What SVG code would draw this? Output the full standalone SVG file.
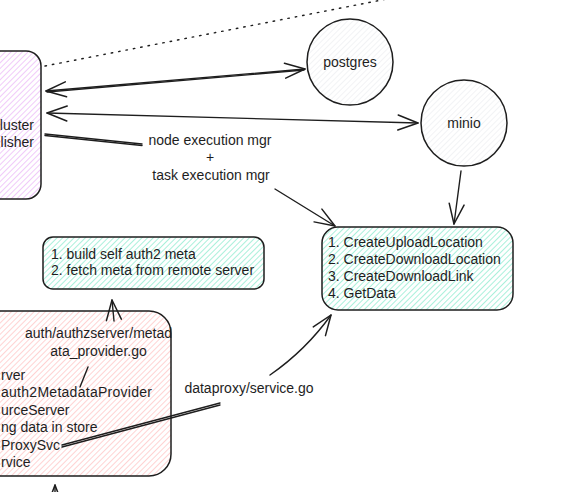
<svg xmlns="http://www.w3.org/2000/svg" width="578" height="492" viewBox="0 0 578 492">
<style>
  .t{font-family:"Liberation Sans",Arial,sans-serif;font-size:14px;fill:#1e1e1e}
  .box{stroke:#1e1e1e;stroke-width:1.5}
  .ln{fill:none;stroke:#1e1e1e;stroke-width:1.4;stroke-linecap:round;stroke-linejoin:round}
  .arr{marker-end:url(#ah)}
  .dbl{marker-start:url(#ah);marker-end:url(#ah)}
</style>
<defs>
  <pattern id="hPurple" width="4" height="4" patternUnits="userSpaceOnUse" patternTransform="rotate(45)">
    <rect width="4" height="4" fill="#fff"/><line x1="0" y1="0" x2="0" y2="4" stroke="#e9aef6" stroke-width="1.3"/>
  </pattern>
  <pattern id="hTeal" width="4" height="4" patternUnits="userSpaceOnUse" patternTransform="rotate(45)">
    <rect width="4" height="4" fill="#fff"/><line x1="0" y1="0" x2="0" y2="4" stroke="#7ce8c8" stroke-width="1.3"/>
  </pattern>
  <pattern id="hPink" width="4" height="4" patternUnits="userSpaceOnUse" patternTransform="rotate(45)">
    <rect width="4" height="4" fill="#fff"/><line x1="0" y1="0" x2="0" y2="4" stroke="#ffb5b5" stroke-width="1.2"/>
  </pattern>
  <pattern id="hGray" width="4" height="4" patternUnits="userSpaceOnUse" patternTransform="rotate(45)">
    <rect width="4" height="4" fill="#fff"/><line x1="0" y1="0" x2="0" y2="4" stroke="#e6e8eb" stroke-width="1"/>
  </pattern>
  <marker id="ah" viewBox="0 0 22 17" refX="21" refY="8.5" markerWidth="22" markerHeight="17" markerUnits="userSpaceOnUse" orient="auto-start-reverse">
    <path d="M1,1 L21,8.5 L1,16" fill="none" stroke="#1e1e1e" stroke-width="1.5" stroke-linecap="round" stroke-linejoin="round"/>
  </marker>
</defs>

<g id="n-cluster">
  <rect class="box" x="-30" y="51" width="71" height="148" rx="15" fill="url(#hPurple)"/>
  <text class="t" x="34" y="130" text-anchor="end">luster</text>
  <text class="t" x="34" y="147" text-anchor="end">lisher</text>
</g>

<g id="n-postgres">
  <circle class="box" cx="350" cy="62" r="43" fill="url(#hGray)"/>
  <text class="t" x="350" y="67" text-anchor="middle">postgres</text>
</g>

<g id="n-minio">
  <circle class="box" cx="464" cy="123" r="43" fill="url(#hGray)"/>
  <text class="t" x="464" y="128" text-anchor="middle">minio</text>
</g>

<g id="n-dataproxy-api">
  <rect class="box" x="322" y="227" width="191" height="83" rx="16" fill="url(#hTeal)"/>
  <text class="t" x="328" y="247">1. CreateUploadLocation</text>
  <text class="t" x="328" y="264">2. CreateDownloadLocation</text>
  <text class="t" x="328" y="281">3. CreateDownloadLink</text>
  <text class="t" x="328" y="298">4. GetData</text>
</g>

<g id="n-auth-meta">
  <rect class="box" x="43" y="237" width="221" height="52" rx="10" fill="url(#hTeal)"/>
  <text class="t" x="51" y="259">1. build self auth2 meta</text>
  <text class="t" x="51" y="275">2. fetch meta from remote server</text>
</g>

<g id="n-admin">
  <rect class="box" x="-30" y="311" width="201" height="165" rx="22" fill="url(#hPink)"/>
  <text class="t" x="1" y="380">rver</text>
  <text class="t" x="1" y="397" textLength="151">auth2MetadataProvider</text>
  <text class="t" x="1" y="415">urceServer</text>
  <text class="t" x="1" y="432">ng data in store</text>
  <text class="t" x="1" y="450">ProxySvc</text>
  <text class="t" x="1" y="467">rvice</text>
</g>

<g id="connectors">
  <line x1="45" y1="66" x2="392" y2="-2" stroke="#1e1e1e" stroke-width="1.4" stroke-dasharray="1.5 6" stroke-linecap="round"/>
  <path class="ln dbl" d="M46,91 L305,69"/>
  <path class="ln" d="M47,92 L304,70" stroke-width="0.8"/>
  <path class="ln dbl" d="M47,113 L418,123"/>
  <!-- exec mgr -->
  <path class="ln" d="M45,134 L142,144" stroke-width="2" stroke="#555"/>
  <path class="ln" d="M45,135.5 L142,145.5" stroke-width="1"/>
  <text class="t" x="210" y="145" text-anchor="middle">node execution mgr</text>
  <text class="t" x="210" y="162" text-anchor="middle" font-size="12">+</text>
  <text class="t" x="211" y="180" text-anchor="middle">task execution mgr</text>
  <path class="ln arr" d="M275,189 L335,226"/>
  <!-- minio down -->
  <path class="ln arr" d="M461,171 L454,224"/>
  <!-- auth meta -->
  <path class="ln" d="M80,387 L88,367" stroke-width="1.8"/>
  <text class="t" x="98.5" y="338" text-anchor="middle">auth/authzserver/metad</text>
  <text class="t" x="98.5" y="356" text-anchor="middle">ata_provider.go</text>
  <path class="ln arr" d="M114,321 L112,300"/>
  <!-- dataproxy -->
  <path class="ln" d="M62,445 L220,403" stroke-width="2" stroke="#555"/>
  <path class="ln" d="M62,447 L220,405" stroke-width="1"/>
  <text class="t" x="249" y="393" text-anchor="middle">dataproxy/service.go</text>
  <path class="ln arr" d="M270,375 Q306,350 331,315"/>
  <!-- bottom incoming -->
  <path class="ln arr" d="M55,500 L55,485"/>
</g>
</svg>
